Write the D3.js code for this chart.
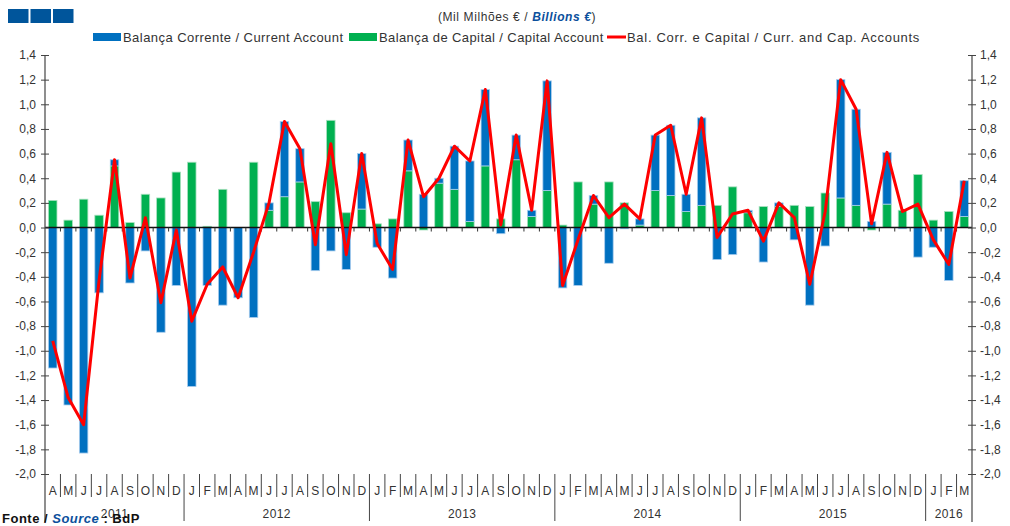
<!DOCTYPE html>
<html>
<head>
<meta charset="utf-8">
<script src="https://cdn.jsdelivr.net/npm/d3@7"></script>
<style>
  body { margin: 0; background: #fff; }
  text { font-family: "Liberation Sans", Arial, sans-serif; }
</style>
</head>
<body>
<div id="chart"></div>
<script>
// months Apr 2011 .. Mar 2016
const monthLabels = ["A","M","J","J","A","S","O","N","D",
  "J","F","M","A","M","J","J","A","S","O","N","D",
  "J","F","M","A","M","J","J","A","S","O","N","D",
  "J","F","M","A","M","J","J","A","S","O","N","D",
  "J","F","M","A","M","J","J","A","S","O","N","D",
  "J","F","M"];
const years = [
  { label: "2011", start: 0, end: 9 },
  { label: "2012", start: 9, end: 21 },
  { label: "2013", start: 21, end: 33 },
  { label: "2014", start: 33, end: 45 },
  { label: "2015", start: 45, end: 57 },
  { label: "2016", start: 57, end: 60 }
];
const capital = [0.22,0.06,0.23,0.10,0.50,0.04,0.27,0.24,0.45,
  0.53,0.01,0.31,0.00,0.53,0.14,0.25,0.37,0.21,0.87,0.12,0.15,
  0.03,0.07,0.46,-0.02,0.36,0.31,0.05,0.50,0.07,0.55,0.09,0.30,
  0.02,0.37,0.19,0.37,0.20,0.02,0.30,0.26,0.13,0.18,0.18,0.33,
  0.12,0.17,0.17,0.18,0.17,0.28,0.24,0.18,-0.02,0.19,0.14,0.43,
  0.06,0.13,0.09];
const current = [-1.14,-1.44,-1.83,-0.53,0.05,-0.45,-0.19,-0.85,-0.47,
  -1.29,-0.47,-0.63,-0.57,-0.73,0.06,0.61,0.27,-0.35,-0.19,-0.34,0.45,
  -0.16,-0.41,0.25,0.27,0.04,0.35,0.49,0.62,-0.05,0.20,0.05,0.89,
  -0.49,-0.47,0.07,-0.29,-0.01,0.05,0.45,0.57,0.14,0.71,-0.26,-0.22,
  0.02,-0.28,0.03,-0.10,-0.63,-0.15,0.96,0.78,0.05,0.42,-0.01,-0.24,
  -0.16,-0.43,0.29];
const total = [-0.92,-1.38,-1.60,-0.43,0.55,-0.41,0.08,-0.61,-0.02,
  -0.76,-0.46,-0.32,-0.57,-0.20,0.20,0.86,0.64,-0.14,0.68,-0.22,0.60,
  -0.13,-0.34,0.71,0.25,0.40,0.66,0.54,1.12,0.02,0.75,0.14,1.19,
  -0.47,-0.10,0.26,0.08,0.19,0.07,0.75,0.83,0.27,0.89,-0.08,0.11,
  0.14,-0.11,0.20,0.08,-0.46,0.13,1.20,0.96,0.03,0.61,0.13,0.19,
  -0.10,-0.30,0.38];
const yTicks = [-2.0,-1.8,-1.6,-1.4,-1.2,-1.0,-0.8,-0.6,-0.4,-0.2,0,0.2,0.4,0.6,0.8,1.0,1.2,1.4];

const width = 1010, height = 526;
const margin = { top: 55, right: 38, bottom: 52, left: 45 };
const blue = "#0070c0", green = "#00b050", red = "#ff0000", ink = "#333";

const svg = d3.select("#chart").append("svg")
  .attr("width", width)
  .attr("height", height);

const idx = d3.range(monthLabels.length);
const x = d3.scaleBand()
  .domain(idx)
  .range([margin.left, width - margin.right])
  .paddingInner(0.45)
  .paddingOuter(0.225);
const step = x.step();
const y = d3.scaleLinear()
  .domain([-2, 1.4])
  .range([height - margin.bottom, margin.top]);

const locale = d3.formatLocale({ decimal: ",", thousands: ".", grouping: [3], currency: ["", "€"], minus: "-" });
const fmt = locale.format(".1f");

// title
const title = svg.append("text")
  .attr("x", 517).attr("y", 21)
  .attr("text-anchor", "middle")
  .attr("font-size", 12)
  .attr("letter-spacing", 0.6)
  .attr("fill", ink);
title.append("tspan").text("(Mil Milhões € / ");
title.append("tspan").attr("font-weight", "bold").attr("font-style", "italic").attr("fill", "#0b4f9c").text("Billions €");
title.append("tspan").text(")");

// logo squares
svg.append("g").selectAll("rect")
  .data([0, 1, 2])
  .join("rect")
    .attr("x", d => 8 + d * 22.5)
    .attr("y", 9)
    .attr("width", 20.5)
    .attr("height", 14)
    .attr("fill", "#00559b");

// legend
const legend = svg.append("g").attr("font-size", 13).attr("fill", ink);
const legItems = [
  { label: "Balança Corrente / Current Account", color: blue, type: "rect", x: 93, ls: 0.45 },
  { label: "Balança de Capital / Capital Account", color: green, type: "rect", x: 349, ls: 0.4 },
  { label: "Bal. Corr. e Capital / Curr. and Cap. Accounts", color: red, type: "line", x: 607, ls: 0.7 }
];
legItems.forEach(d => {
  if (d.type === "rect") {
    legend.append("rect").attr("x", d.x).attr("y", 33).attr("width", 28).attr("height", 8).attr("fill", d.color);
  } else {
    legend.append("line").attr("x1", d.x).attr("x2", d.x + 19).attr("y1", 37).attr("y2", 37)
      .attr("stroke", d.color).attr("stroke-width", 3);
  }
  legend.append("text")
    .attr("x", d.x + (d.type === "rect" ? 30 : 20)).attr("y", 42)
    .attr("letter-spacing", d.ls)
    .attr("fill", ink).text(d.label);
});

// bars, stacked with diverging offset
const rows = idx.map(i => ({ i, capital: capital[i], current: current[i] }));
const series = d3.stack()
  .keys(["capital", "current"])
  .offset(d3.stackOffsetDiverging)(rows);
const colors = { capital: green, current: blue };
const halos = { capital: "#a8e0bf", current: "#a9cdee" };

svg.append("g")
  .selectAll("g")
  .data(series)
  .join("g")
    .attr("fill", d => colors[d.key])
    .attr("stroke", d => halos[d.key])
    .attr("stroke-width", 0.8)
  .selectAll("rect")
  .data(d => d)
  .join("rect")
    .attr("x", d => x(d.data.i))
    .attr("width", x.bandwidth())
    .attr("y", d => y(Math.max(d[0], d[1])))
    .attr("height", d => Math.abs(y(d[0]) - y(d[1])));

// zero line with small month ticks
const y0 = y(0);
svg.append("line")
  .attr("x1", margin.left).attr("x2", width - margin.right)
  .attr("y1", y0).attr("y2", y0)
  .attr("stroke", "#111").attr("stroke-width", 1.5);
svg.append("g")
  .attr("stroke", "#333")
  .selectAll("line")
  .data(d3.range(1, monthLabels.length))
  .join("line")
    .attr("x1", d => margin.left + d * step)
    .attr("x2", d => margin.left + d * step)
    .attr("y1", y0)
    .attr("y2", y0 + 4);

// total line
svg.append("path")
  .datum(idx)
  .attr("fill", "none")
  .attr("stroke", red)
  .attr("stroke-width", 3)
  .attr("stroke-linejoin", "round")
  .attr("d", d3.line()
    .x(i => x(i) + x.bandwidth() / 2)
    .y(i => y(total[i])));

// y axes
const yAxisL = d3.axisLeft(y).tickValues(yTicks).tickFormat(fmt).tickSize(4).tickPadding(5);
const yAxisR = d3.axisRight(y).tickValues(yTicks).tickFormat(fmt).tickSize(4).tickPadding(4);

const gl = svg.append("g")
  .attr("transform", `translate(${margin.left},0)`)
  .call(yAxisL);
gl.select(".domain").remove();
gl.selectAll(".tick line").attr("x1", 4).attr("stroke", "#444");
gl.selectAll(".tick text").attr("font-size", 12).attr("fill", ink).attr("font-family", "Liberation Sans, Arial, sans-serif");

const gr = svg.append("g")
  .attr("transform", `translate(${width - margin.right},0)`)
  .call(yAxisR);
gr.select(".domain").remove();
gr.selectAll(".tick line").attr("x1", -4).attr("stroke", "#444");
gr.selectAll(".tick text").attr("font-size", 12).attr("fill", ink).attr("font-family", "Liberation Sans, Arial, sans-serif");

// vertical axis lines extending into the month/year band
const yBottom = y(-2);
[margin.left, width - margin.right].forEach(px => {
  svg.append("line")
    .attr("x1", px).attr("x2", px)
    .attr("y1", y(1.4)).attr("y2", yBottom + 48)
    .attr("stroke", "#444").attr("stroke-width", 1.2);
});

// month separators and labels
const yearStarts = new Set(years.map(d => d.start));
svg.append("g")
  .attr("stroke", "#444")
  .selectAll("line")
  .data(d3.range(1, monthLabels.length))
  .join("line")
    .attr("x1", d => margin.left + d * step)
    .attr("x2", d => margin.left + d * step)
    .attr("y1", yBottom)
    .attr("y2", d => yearStarts.has(d) ? yBottom + 47 : yBottom + 23);

svg.append("g")
  .attr("font-size", 12)
  .attr("fill", ink)
  .attr("text-anchor", "middle")
  .selectAll("text")
  .data(idx)
  .join("text")
    .attr("x", i => x(i) + x.bandwidth() / 2)
    .attr("y", yBottom + 21)
    .text(i => monthLabels[i]);

svg.append("g")
  .attr("font-size", 12)
  .attr("fill", ink)
  .attr("text-anchor", "middle")
  .selectAll("text")
  .data(years)
  .join("text")
    .attr("x", d => margin.left + (d.start + d.end) / 2 * step)
    .attr("y", yBottom + 44)
    .attr("letter-spacing", 0.4)
    .text(d => d.label);

// source
const src = svg.append("text")
  .attr("x", 2).attr("y", 523)
  .attr("font-size", 13)
  .attr("font-weight", "bold")
  .attr("letter-spacing", 0.5)
  .attr("fill", "#111");
src.append("tspan").text("Fonte / ");
src.append("tspan").attr("font-style", "italic").attr("fill", "#0b4f9c").text("Source");
src.append("tspan").text(" : BdP");
</script>
</body>
</html>
